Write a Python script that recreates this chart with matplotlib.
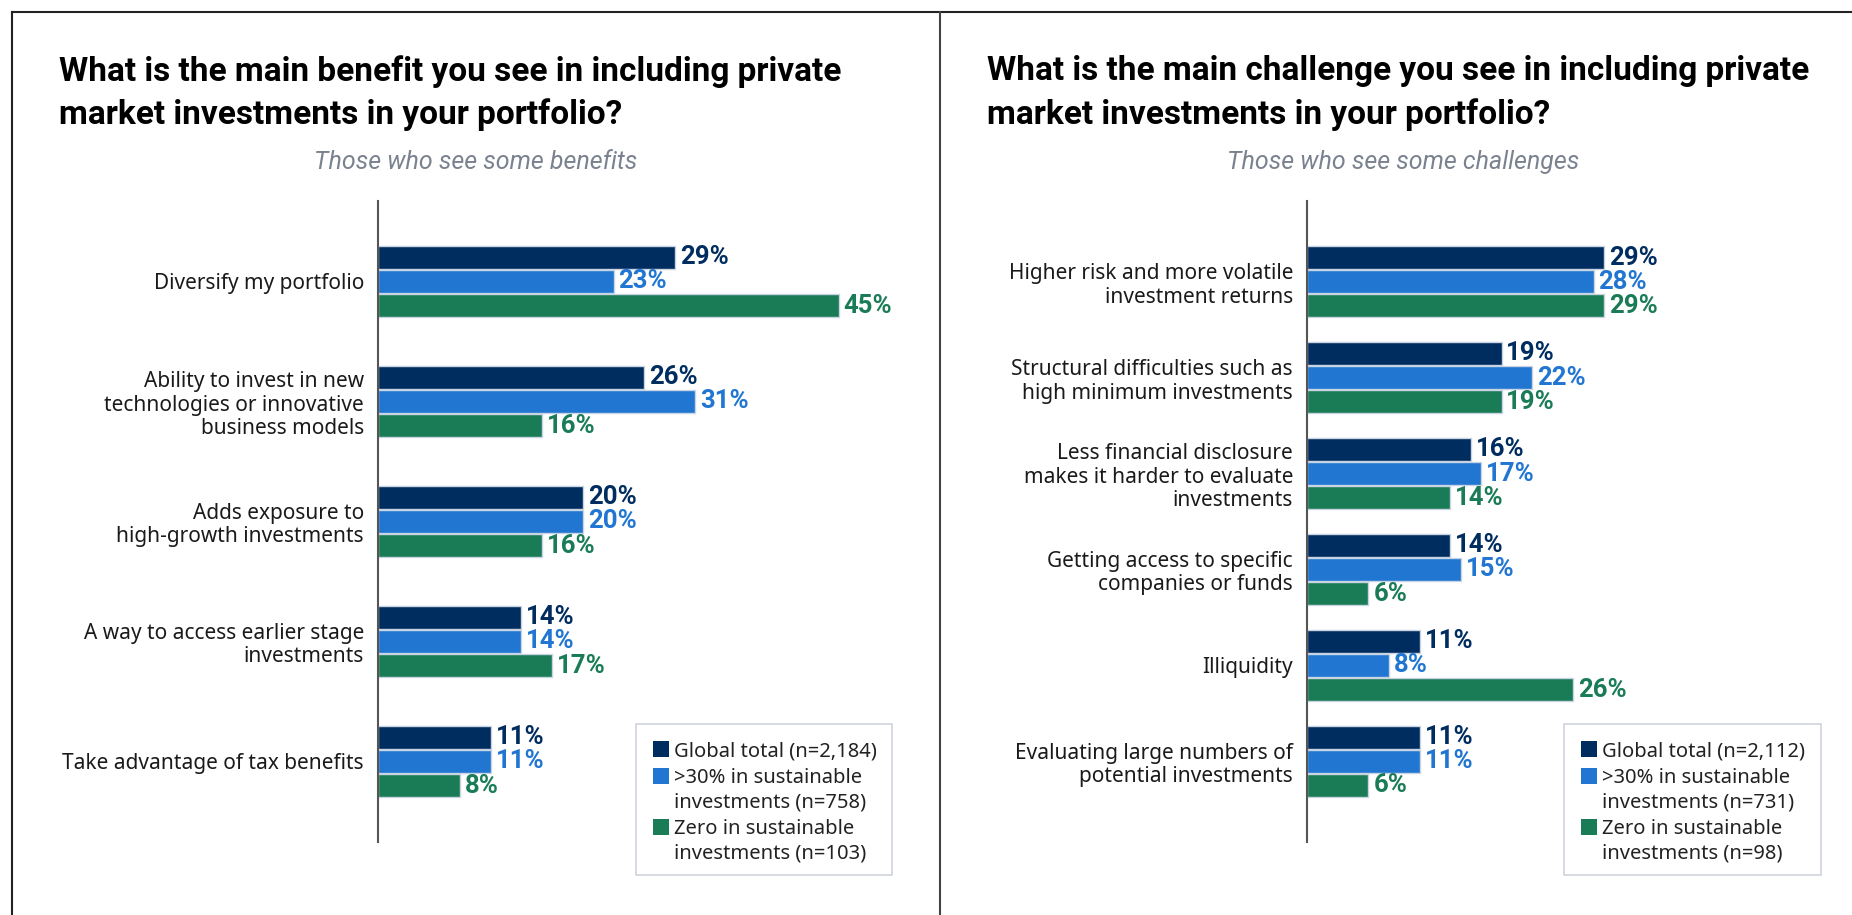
import matplotlib.pyplot as plt
from matplotlib.lines import Line2D
from matplotlib.patches import Rectangle

plt.rcParams['font.family'] = ['Noto Sans', 'DejaVu Sans']

# survey results, % of respondents
benefit_labels = [
    "Diversify my portfolio",
    "Ability to invest in new\ntechnologies or innovative\nbusiness models",
    "Adds exposure to\nhigh-growth investments",
    "A way to access earlier stage\ninvestments",
    "Take advantage of tax benefits",
]
benefit_global = [29, 26, 20, 14, 11]
benefit_high = [23, 31, 20, 14, 11]
benefit_zero = [45, 16, 16, 17, 8]

challenge_labels = [
    "Higher risk and more volatile\ninvestment returns",
    "Structural difficulties such as\nhigh minimum investments",
    "Less financial disclosure\nmakes it harder to evaluate\ninvestments",
    "Getting access to specific\ncompanies or funds",
    "Illiquidity",
    "Evaluating large numbers of\npotential investments",
]
challenge_global = [29, 19, 16, 14, 11, 11]
challenge_high = [28, 22, 17, 15, 8, 11]
challenge_zero = [29, 19, 14, 6, 26, 6]

benefit_legend = ["Global total (n=2,184)",
                  ">30% in sustainable\ninvestments (n=758)",
                  "Zero in sustainable\ninvestments (n=103)"]
challenge_legend = ["Global total (n=2,112)",
                    ">30% in sustainable\ninvestments (n=731)",
                    "Zero in sustainable\ninvestments (n=98)"]

colors = ["#002d5f", "#2176d2", "#1a7c57"]
edge = "#c9d4e2"

W, H = 1852, 915
fig = plt.figure(figsize=(W / 100, H / 100), dpi=100)


def fx(px):
    return px / W


def fy(py):
    return 1 - py / H


def panel(left_px, labels, series, spacing_px, legend_labels, legend_box):
    top_px, bottom_px = 201, 842
    n = len(labels)
    height_px = bottom_px - top_px
    width_px = 512
    ax = fig.add_axes([fx(left_px), fy(bottom_px), fx(width_px), height_px / H])
    units = height_px / spacing_px
    pad = (units - (n - 1)) / 2
    ax.set_ylim(n - 1 + pad, -pad)
    ax.set_xlim(0, 50)
    off = 24.2 / spacing_px
    bh = 23.0 / spacing_px
    ys = list(range(n))
    for k, (vals, c) in enumerate(zip(series, colors)):
        pos = [y + (k - 1) * off for y in ys]
        ax.barh(pos, vals, height=bh, color=c, edgecolor=edge, linewidth=1)
        for p, v in zip(pos, vals):
            ax.annotate(f"{v}%", (v, p), xytext=(3.5, 0), textcoords="offset points",
                        va="center", ha="left", fontsize=18.5, fontweight="bold",
                        color=c, family=["Roboto", "DejaVu Sans"])
    ax.set_yticks(ys)
    ax.set_yticklabels(labels, fontsize=15, color="#1a1a1a", linespacing=1.15)
    ax.tick_params(axis="y", length=0, pad=10)
    ax.set_xticks([])
    for s in ["top", "right", "bottom"]:
        ax.spines[s].set_visible(False)
    ax.spines["left"].set_color("#555555")
    ax.spines["left"].set_linewidth(1.5)

    # legend box with handles on the first line of each entry
    x0, y0, x1, y1, hx, tx = legend_box
    fig.add_artist(Rectangle((fx(x0), fy(y1)), fx(x1 - x0), (y1 - y0) / H,
                             transform=fig.transFigure, facecolor="white",
                             edgecolor="#cfd3da", linewidth=1.2))
    line_y = [749, 776, 827]
    for lab, c, ly in zip(legend_labels, colors, line_y):
        fig.add_artist(Rectangle((fx(hx), fy(ly + 8)), fx(16), 16 / H,
                                 transform=fig.transFigure, facecolor=c,
                                 edgecolor="none"))
        fig.text(fx(tx), fy(ly - 8), lab, fontsize=14.5, color="#222222",
                 ha="left", va="top", linespacing=1.28)
    return ax


panel(378, benefit_labels, [benefit_global, benefit_high, benefit_zero], 120,
      benefit_legend, (636, 724, 892, 875, 653, 674))
panel(1307, challenge_labels, [challenge_global, challenge_high, challenge_zero], 95.9,
      challenge_legend, (1564, 724, 1821, 875, 1581, 1602))

# titles and subtitles
title_font = dict(fontsize=24, fontweight="bold", color="black", ha="left",
                  va="top", linespacing=1.42, family=["Roboto", "DejaVu Sans"])
fig.text(fx(59), fy(55), "What is the main benefit you see in including private\n"
         "market investments in your portfolio?", **title_font)
fig.text(fx(987), fy(55), "What is the main challenge you see in including private\n"
         "market investments in your portfolio?", **title_font)
sub_font = dict(fontsize=18, style="italic", color="#7a8290", ha="center",
                va="center", family=["Roboto", "DejaVu Sans"])
fig.text(fx(476), fy(162), "Those who see some benefits", **sub_font)
fig.text(fx(1403), fy(162), "Those who see some challenges", **sub_font)

# frame lines
fig.add_artist(Line2D([fx(12), 1], [fy(12), fy(12)], color="#222222", lw=1.5))
fig.add_artist(Line2D([fx(12), fx(12)], [fy(12), 0], color="#222222", lw=1.5))
fig.add_artist(Line2D([fx(940), fx(940)], [fy(12), 0], color="#444444", lw=1.5))

fig.savefig("out.png", dpi=100)
